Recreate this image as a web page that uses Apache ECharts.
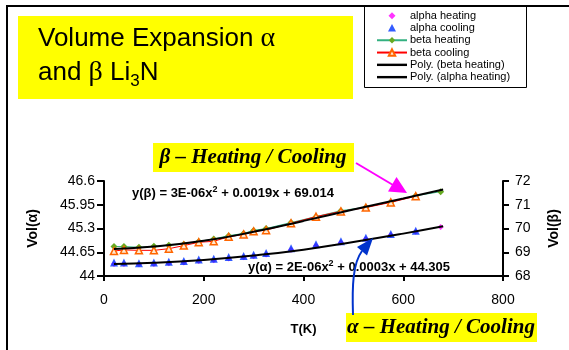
<!DOCTYPE html>
<html><head><meta charset="utf-8">
<script src="https://cdn.jsdelivr.net/npm/echarts@6/dist/echarts.min.js"></script>
<style>html,body{margin:0;padding:0;background:#fff}#c{width:569px;height:350px}</style>
</head><body><div id="c"></div>
<script>
// Temperatures (K)
const tempHeating = [20,40,70,100,130,160,190,220,250,280,300,325,375,425,475,525,575,625,675];
const tempCooling = [20,40,70,100,130,160,190,220,250,280,300,325,375,425,475,525,575,625];
// Vol(alpha) — left axis
const alphaHeating = [44.33,44.33,44.32,44.33,44.35,44.37,44.41,44.43,44.48,44.51,44.54,44.59,44.72,44.83,44.92,45.01,45.12,45.21,45.34];
const alphaCooling = [44.37,44.37,44.35,44.37,44.39,44.41,44.45,44.47,44.52,44.55,44.58,44.63,44.76,44.87,44.95,45.05,45.15,45.24];
// Vol(beta) — right axis
const betaHeating = [69.24,69.24,69.21,69.25,69.30,69.34,69.45,69.56,69.70,69.79,69.92,70.00,70.25,70.50,70.75,70.90,71.12,71.38,71.55];
const betaCooling = [69.05,69.10,69.08,69.08,69.15,69.28,69.42,69.46,69.65,69.75,69.88,69.93,70.22,70.50,70.72,70.88,71.10,71.36];
// Polynomial trend lines
const trendT = [20,100,200,300,400,500,600,680];
const trendAlpha = [44.33,44.36,44.44,44.56,44.72,44.93,45.16,45.36];
const trendBeta = [69.14,69.24,69.48,69.86,70.32,70.80,71.26,71.64];
// Axis ticks
const xTicks = [0,200,400,600,800];
const leftTicks = [44,44.65,45.3,45.95,46.6];
const rightTicks = [68,69,70,71,72];

const pair = (xs, ys) => xs.map((x,i)=>[x, ys[i]]);
const F = 'Liberation Sans, Arial, sans-serif';
// legend icons drawn inside a 30x8 box
const iconDiamond = 'path://M0,0 M30,8 M15,0.5 L18.5,4 L15,7.5 L11.5,4 Z';
const iconTriangle = 'path://M0,0 M30,8 M15,0 L19,7.5 L11,7.5 Z';
const iconPoly = 'path://M0,0 M30,8 M0,2.8 L30,2.8 L30,5.2 L0,5.2 Z';
const chart = echarts.init(document.getElementById('c'), null, {renderer:'canvas'});
chart.setOption({
  animation:false,
  backgroundColor:'#fff',
  grid:{left:104,right:63,top:181,bottom:74},
  legend:{
    orient:'vertical', left:376, top:9.5, itemWidth:30, itemHeight:8, itemGap:0,
    padding:0, z:20,
    textStyle:{fontFamily:F, fontSize:11, color:'#000', lineHeight:12.3, padding:[0,0,0,-2]},
    data:[
      {name:'alpha heating', icon:iconDiamond},
      {name:'alpha cooling', icon:iconTriangle},
      {name:'beta heating'},
      {name:'beta cooling'},
      {name:'Poly. (beta heating)', icon:iconPoly},
      {name:'Poly. (alpha heating)', icon:iconPoly}
    ]
  },
  xAxis:{
    type:'value', min:xTicks[0], max:xTicks[xTicks.length-1], interval:200,
    axisLine:{lineStyle:{color:'#000',width:2}},
    axisTick:{length:5,lineStyle:{color:'#000',width:2}},
    axisLabel:{fontFamily:F,fontSize:14,color:'#000',margin:17},
    splitLine:{show:false},
    name:'T(K)', nameLocation:'middle', nameGap:47,
    nameTextStyle:{fontFamily:F,fontSize:13,fontWeight:'bold',color:'#000'}
  },
  yAxis:[{
    type:'value', min:leftTicks[0], max:leftTicks[leftTicks.length-1], interval:0.65,
    axisLine:{show:true,lineStyle:{color:'#000',width:2}},
    axisTick:{show:true,length:7,lineStyle:{color:'#000',width:2}},
    axisLabel:{fontFamily:F,fontSize:14,color:'#000',margin:9,formatter:v=>String(+v.toFixed(2))},
    splitLine:{show:false},
    name:'Vol(α)', nameLocation:'middle', nameGap:64, nameRotate:90,
    nameTextStyle:{fontFamily:F,fontSize:14,fontWeight:'bold',color:'#000'}
  },{
    type:'value', position:'right', min:rightTicks[0], max:rightTicks[rightTicks.length-1], interval:1,
    axisLine:{show:true,lineStyle:{color:'#000',width:2}},
    axisTick:{show:true,length:6,lineStyle:{color:'#000',width:2}},
    axisLabel:{fontFamily:F,fontSize:14,color:'#000',margin:12},
    splitLine:{show:false},
    name:'Vol(β)', nameLocation:'middle', nameGap:44, nameRotate:90,
    nameTextStyle:{fontFamily:F,fontSize:14,fontWeight:'bold',color:'#000'}
  }],
  series:[
    {name:'alpha heating', type:'scatter', yAxisIndex:0, symbol:'diamond', symbolSize:6,
     itemStyle:{color:'#FF00FF'}, data:pair(tempHeating, alphaHeating), z:3},
    {name:'alpha cooling', type:'scatter', yAxisIndex:0, symbol:'triangle', symbolSize:8,
     itemStyle:{color:'#0033FF'}, data:pair(tempCooling, alphaCooling), z:4},
    {name:'beta heating', type:'line', yAxisIndex:1, symbol:'diamond', symbolSize:7, showSymbol:true,
     lineStyle:{color:'#33B080',width:1}, itemStyle:{color:'#66AA22'}, data:pair(tempHeating, betaHeating), z:3},
    {name:'beta cooling', type:'line', yAxisIndex:1, symbol:'triangle', symbolSize:7, showSymbol:true,
     lineStyle:{color:'#FF0000',width:1}, itemStyle:{color:'#FFE8D0',borderColor:'#FF6600',borderWidth:1.5},
     data:pair(tempCooling, betaCooling), z:4},
    {name:'Poly. (beta heating)', type:'line', yAxisIndex:1, symbol:'none', smooth:true,
     lineStyle:{color:'#000',width:2}, itemStyle:{color:'#000'}, data:pair(trendT, trendBeta), z:6},
    {name:'Poly. (alpha heating)', type:'line', yAxisIndex:0, symbol:'none', smooth:true,
     lineStyle:{color:'#000',width:2}, itemStyle:{color:'#000'}, data:pair(trendT, trendAlpha), z:6}
  ],
  graphic:[
    {type:'line', z:50, shape:{x1:6,y1:6,x2:569,y2:6}, style:{stroke:'#000',lineWidth:2}},
    {type:'line', z:50, shape:{x1:7,y1:6,x2:7,y2:350}, style:{stroke:'#000',lineWidth:2}},
    {type:'rect', z:1, shape:{x:364.5,y:6.5,width:162,height:81}, style:{fill:'#fff',stroke:'#000',lineWidth:1}},
    {type:'rect', z:1, shape:{x:18,y:16,width:335,height:83}, style:{fill:'#FFFF00'}},
    {type:'text', z:2, left:38, top:25, style:{
      text:'{a|Volume Expansion }{g|α}\n{a|and }{g|β}{a| Li}{s|3}{a|N}',
      rich:{
        a:{fontFamily:F,fontSize:26,lineHeight:34,fill:'#000'},
        g:{fontFamily:'Liberation Serif, serif',fontSize:28,lineHeight:34,fill:'#000'},
        s:{fontFamily:F,fontSize:17,lineHeight:18,verticalAlign:'bottom',fill:'#000'}
      }}},
    {type:'rect', z:30, shape:{x:153,y:143,width:201,height:29}, style:{fill:'#FFFF00'}},
    {type:'text', z:31, x:253, y:157.5, style:{text:'β – Heating / Cooling', align:'center', verticalAlign:'middle',
      font:'italic bold 21px "Liberation Serif", serif', fill:'#000'}},
    {type:'rect', z:30, shape:{x:346,y:313,width:191,height:29}, style:{fill:'#FFFF00'}},
    {type:'text', z:31, x:441, y:327.5, style:{text:'α – Heating / Cooling', align:'center', verticalAlign:'middle',
      font:'italic bold 21px "Liberation Serif", serif', fill:'#000'}},
    {type:'text', z:32, left:132, top:185, style:{
      text:'{a|y(β) = 3E-06x}{s|2}{a| + 0.0019x + 69.014}',
      rich:{a:{fontFamily:F,fontSize:13,fontWeight:'bold',lineHeight:16,fill:'#000'},
            s:{fontFamily:F,fontSize:9,fontWeight:'bold',lineHeight:9,verticalAlign:'top',fill:'#000'}}}},
    {type:'text', z:32, left:248, top:259, style:{
      text:'{a|y(α) = 2E-06x}{s|2}{a| + 0.0003x + 44.305}',
      rich:{a:{fontFamily:F,fontSize:13,fontWeight:'bold',lineHeight:16,fill:'#000'},
            s:{fontFamily:F,fontSize:9,fontWeight:'bold',lineHeight:9,verticalAlign:'top',fill:'#000'}}}},
    {type:'line', z:33, shape:{x1:356,y1:163,x2:393,y2:185}, style:{stroke:'#FF00FF',lineWidth:2}},
    {type:'polygon', z:33, shape:{points:[[407,193],[388,191.5],[396.5,177]]}, style:{fill:'#FF00FF'}},
    {type:'bezierCurve', z:33, shape:{x1:353,y1:315,cpx1:352,cpy1:285,cpx2:353,cpy2:263,x2:362,y2:251},
      style:{stroke:'#0033CC',lineWidth:2,fill:null}},
    {type:'polygon', z:33, shape:{points:[[373,238],[357,247],[367,255.5]]}, style:{fill:'#0033CC'}}
  ]
});
</script></body></html>
